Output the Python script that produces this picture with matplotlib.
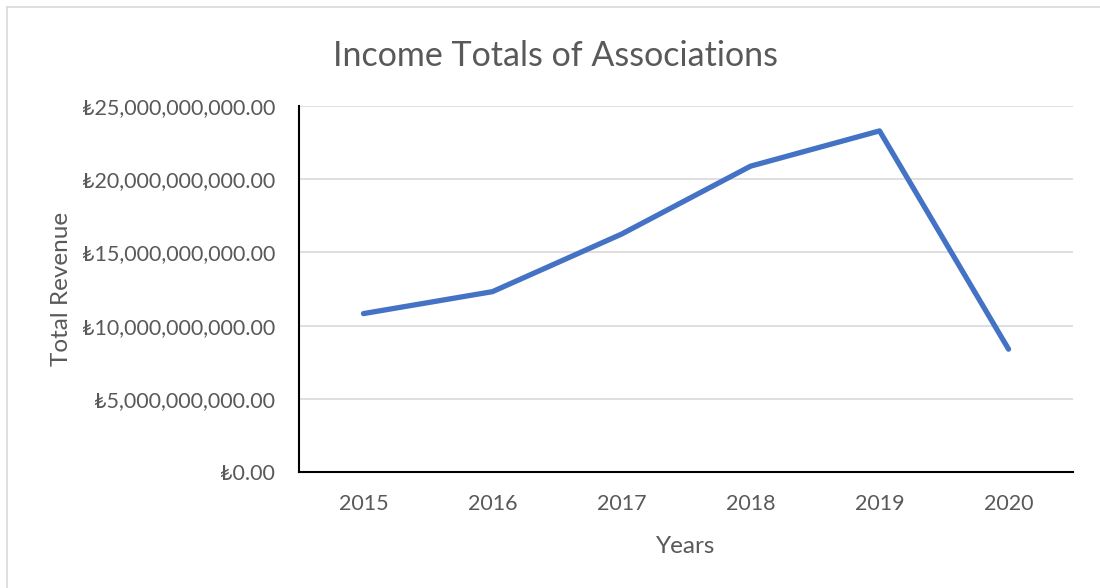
import matplotlib.pyplot as plt
from matplotlib.lines import Line2D
from matplotlib.ticker import FuncFormatter

years = ["2015", "2016", "2017", "2018", "2019", "2020"]
revenue = [10.82e9, 12.32e9, 16.25e9, 20.89e9, 23.30e9, 8.39e9]
y_ticks = [0, 5e9, 10e9, 15e9, 20e9, 25e9]

text_color = "#595959"
plt.rcParams["font.family"] = ["Lato", "DejaVu Sans"]

fig = plt.figure(figsize=(11, 5.88), dpi=100)
ax = fig.add_axes([0.2718, 0.1973, 0.7037, 0.6224])

x = range(len(years))
ax.plot(x, revenue, color="#4472C4", lw=3.8, solid_capstyle="round", solid_joinstyle="round")

ax.set_xlim(-0.5, len(years) - 0.5)
ax.set_ylim(0, 25e9)
ax.set_xticks(list(x))
ax.set_xticklabels(years)
ax.set_yticks(y_ticks)
ax.yaxis.set_major_formatter(FuncFormatter(lambda v, p: "\u20ba{:,.2f}".format(v)))

ax.grid(axis="y", color="#D9D9D9", lw=1.2)
ax.set_axisbelow(True)
for s in ["top", "right"]:
    ax.spines[s].set_visible(False)
for s in ["left", "bottom"]:
    ax.spines[s].set_color("black")
    ax.spines[s].set_linewidth(1.5)
ax.tick_params(length=0, labelsize=15.5, colors=text_color)
ax.tick_params(axis="x", pad=16)
ax.tick_params(axis="y", pad=17)

ax.set_xlabel("Years", fontsize=17.5, color=text_color, labelpad=16)
ax.set_ylabel("Total Revenue", fontsize=17.5, color=text_color)
ax.yaxis.set_label_coords(-0.293, 0.5)
fig.text(0.505, 0.905, "Income Totals of Associations", fontsize=24.5,
         color=text_color, ha="center", va="center")

# chart area border
fig.add_artist(Line2D([7 / 1100, 7 / 1100], [0, 1 - 7 / 588], transform=fig.transFigure, color="#D9D9D9", lw=1.2))
fig.add_artist(Line2D([7 / 1100, 1], [1 - 7 / 588, 1 - 7 / 588], transform=fig.transFigure, color="#D9D9D9", lw=1.2))

fig.savefig("out.png", dpi=100)
